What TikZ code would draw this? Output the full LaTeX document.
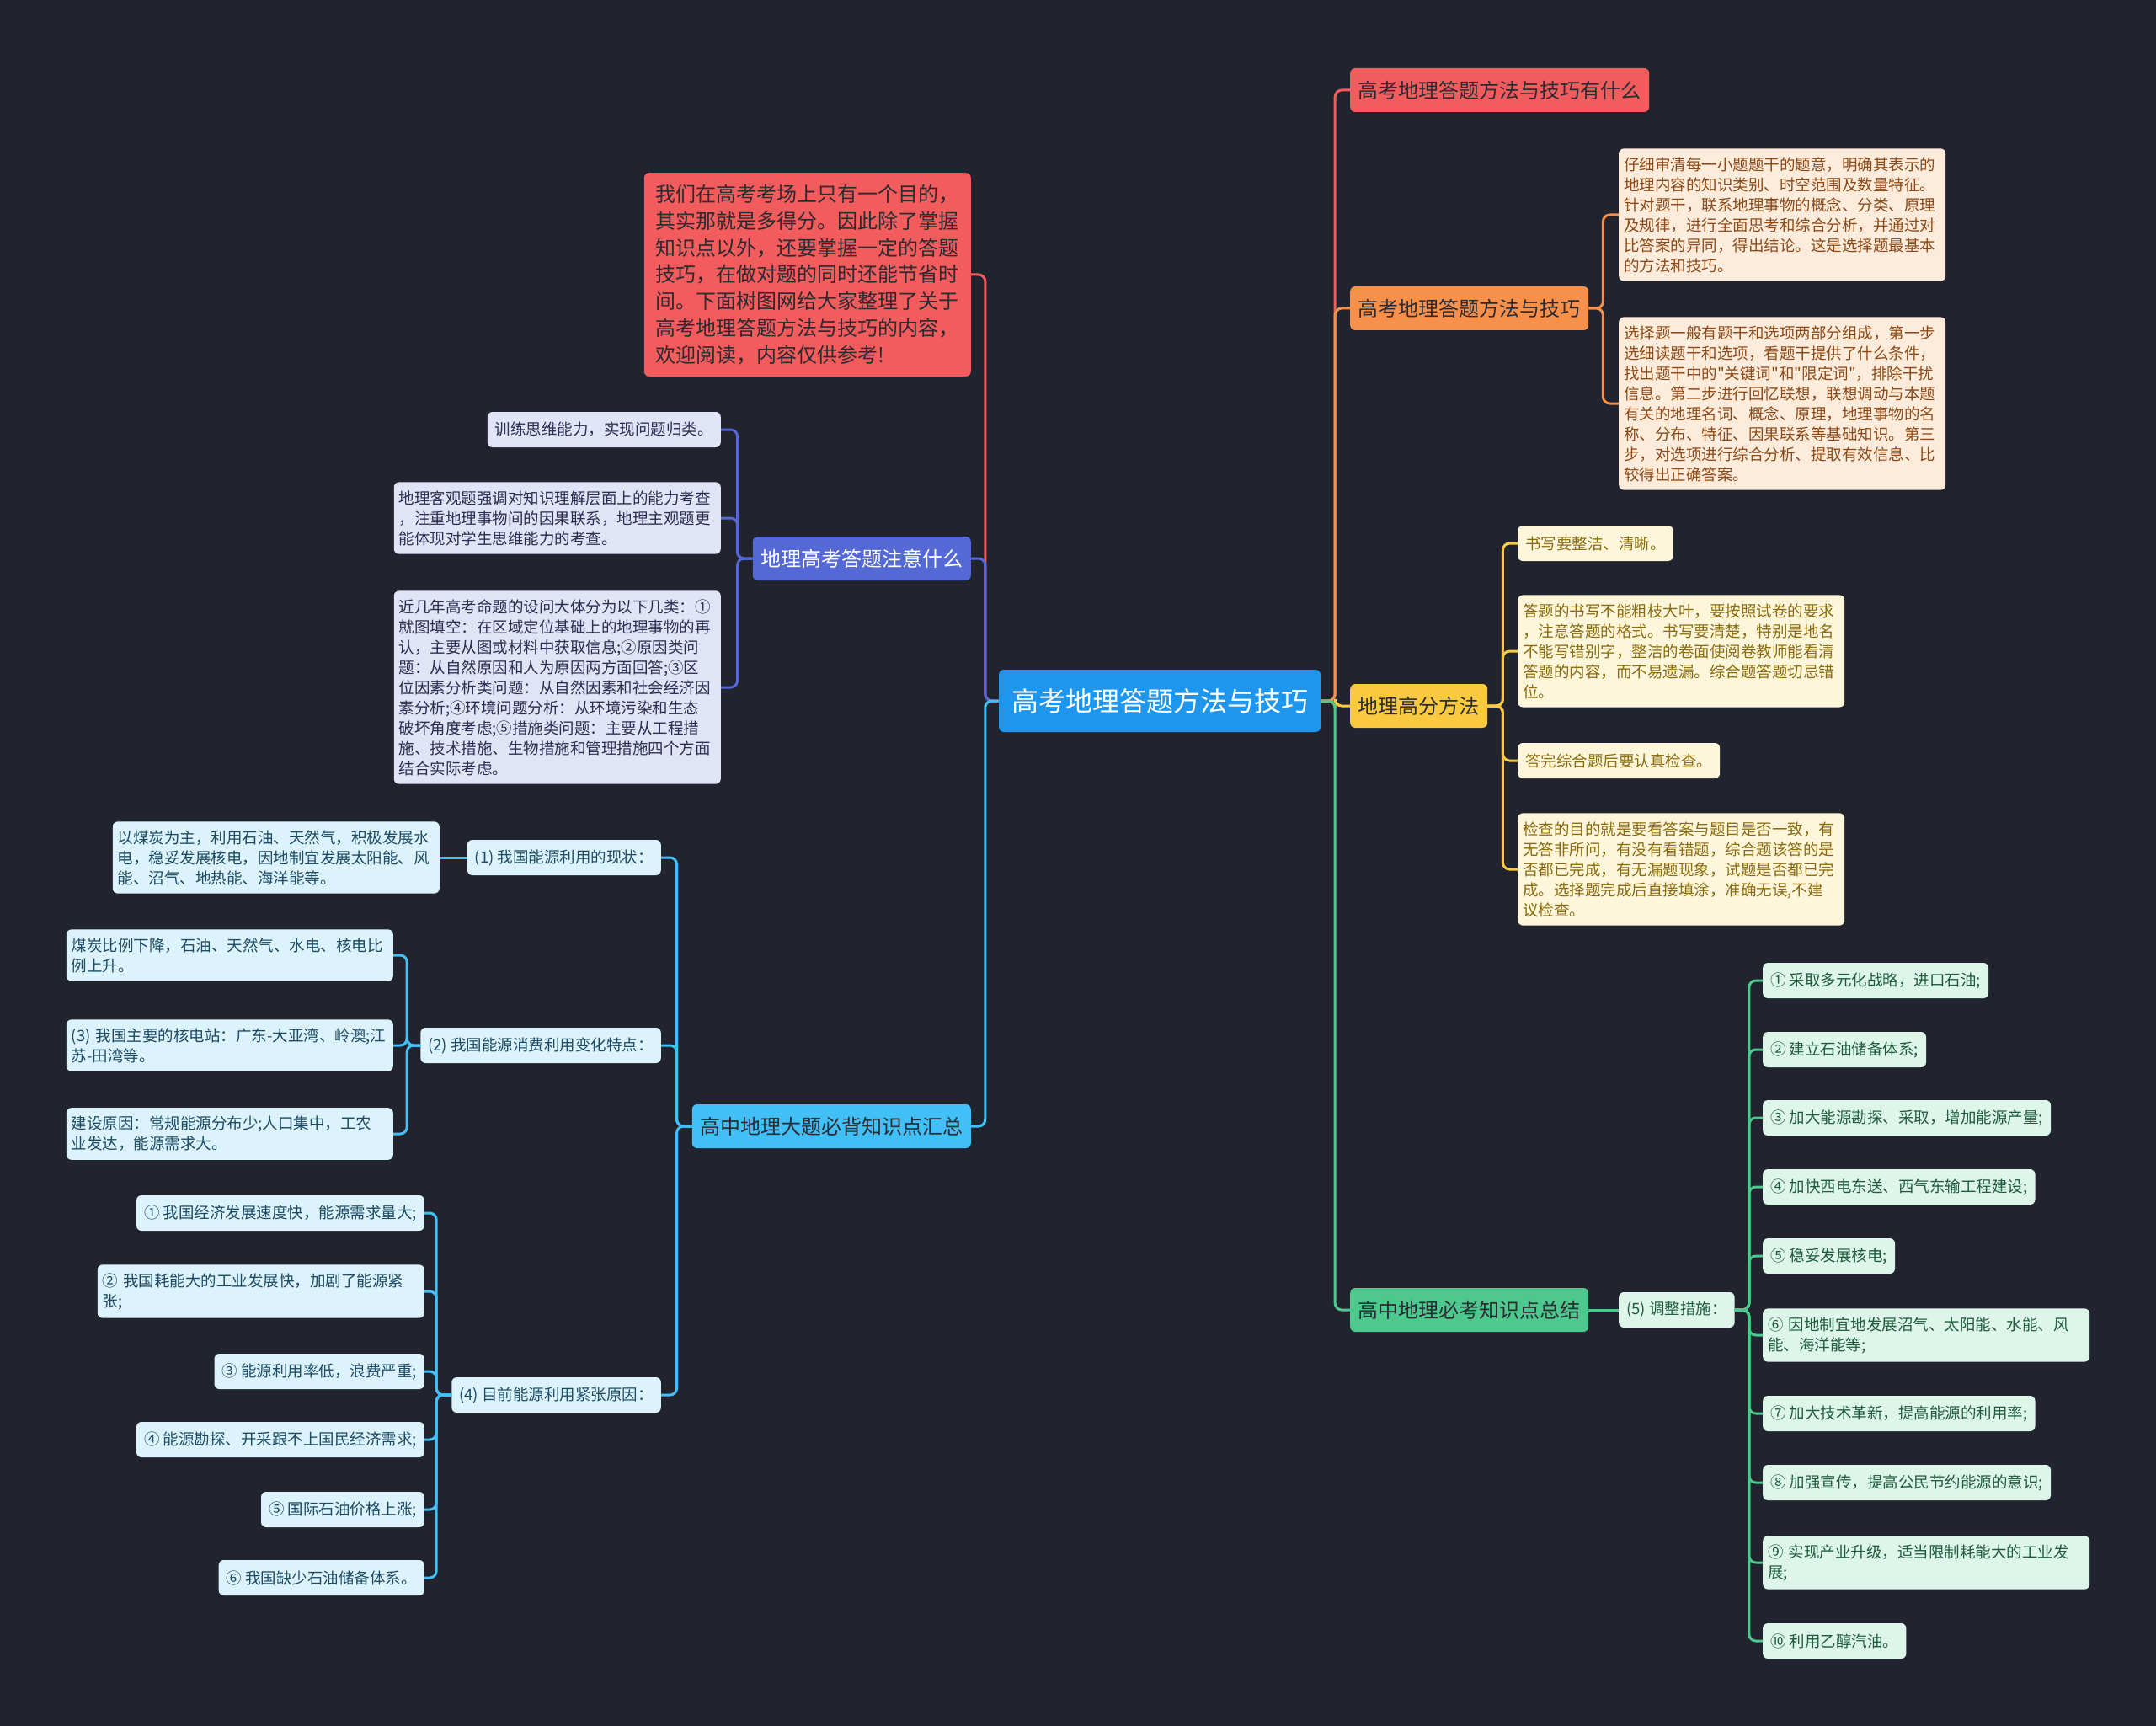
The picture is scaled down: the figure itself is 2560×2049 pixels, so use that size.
\documentclass[tikz,border=0pt]{standalone}
\usepackage{fontspec}
\setmainfont{Noto Sans CJK SC}[Ligatures=TeXOff]
\definecolor{bg}{HTML}{21242F}
\definecolor{rootblue}{HTML}{1E96EE}
\definecolor{cred}{HTML}{F25C5C}
\definecolor{corange}{HTML}{F7904A}
\definecolor{cyellow}{HTML}{F9CA3F}
\definecolor{cgreen}{HTML}{4DC98E}
\definecolor{cpurple}{HTML}{5468D6}
\definecolor{csky}{HTML}{40C0F6}
\definecolor{tdark}{HTML}{2B2B33}
\definecolor{fpeach}{HTML}{FDEBDC}
\definecolor{tpeach}{HTML}{8C4A16}
\definecolor{fcream}{HTML}{FDF6DB}
\definecolor{tcream}{HTML}{8A6B0E}
\definecolor{fmint}{HTML}{DEF5EA}
\definecolor{tmint}{HTML}{1F5C3F}
\definecolor{flav}{HTML}{E1E4F6}
\definecolor{tlav}{HTML}{2A2E50}
\definecolor{fice}{HTML}{DCF2FC}
\definecolor{tice}{HTML}{1D4C62}

\begin{document}
\begin{tikzpicture}[
x=1pt, y=-1pt,
topic/.style={rounded corners=6pt, inner xsep=9.5pt, inner ysep=10pt, minimum height=52pt, text=tdark, font=\fontsize{24}{30}\selectfont},
leaf/.style={rounded corners=6pt, inner xsep=9pt, inner ysep=10pt, minimum height=42pt, font=\fontsize{18.5}{24}\selectfont},
wide/.style={leaf, inner xsep=6pt, text width=376pt, align=left},
link/.style={line width=3pt, rounded corners=8pt}
]
\fill[bg] (0,0) rectangle (2560,2049);

\node[topic, fill=rootblue, text=white, font=\fontsize{32}{38}\selectfont, minimum height=74pt, inner xsep=15pt] (root) at (1377,832) {高考地理答题方法与技巧};

\node[topic, fill=cred, anchor=west] (what) at (1603,107) {高考地理答题方法与技巧有什么};
\node[topic, fill=corange, anchor=west] (skill) at (1603,366) {高考地理答题方法与技巧};
\node[wide, fill=fpeach, text=tpeach, anchor=west] (skill1) at (1922,255) {仔细审清每一小题题干的题意，明确其表示的\\地理内容的知识类别、时空范围及数量特征。\\针对题干，联系地理事物的概念、分类、原理\\及规律，进行全面思考和综合分析，并通过对\\比答案的异同，得出结论。这是选择题最基本\\的方法和技巧。};
\node[wide, fill=fpeach, text=tpeach, anchor=west] (skill2) at (1922,479) {选择题一般有题干和选项两部分组成，第一步\\选细读题干和选项，看题干提供了什么条件，\\找出题干中的"关键词"和"限定词"，排除干扰\\信息。第二步进行回忆联想，联想调动与本题\\有关的地理名词、概念、原理，地理事物的名\\称、分布、特征、因果联系等基础知识。第三\\步，对选项进行综合分析、提取有效信息、比\\较得出正确答案。};

\node[topic, fill=cyellow, anchor=west] (high) at (1603,838) {地理高分方法};
\node[leaf, fill=fcream, text=tcream, anchor=west] (high1) at (1802,645) {书写要整洁、清晰。};
\node[wide, fill=fcream, text=tcream, anchor=west] (high2) at (1802,773) {答题的书写不能粗枝大叶，要按照试卷的要求\\，注意答题的格式。书写要清楚，特别是地名\\不能写错别字，整洁的卷面使阅卷教师能看清\\答题的内容，而不易遗漏。综合题答题切忌错\\位。};
\node[leaf, fill=fcream, text=tcream, anchor=west] (high3) at (1802,903) {答完综合题后要认真检查。};
\node[wide, fill=fcream, text=tcream, anchor=west] (high4) at (1802,1032) {检查的目的就是要看答案与题目是否一致，有\\无答非所问，有没有看错题，综合题该答的是\\否都已完成，有无漏题现象，试题是否都已完\\成。选择题完成后直接填涂，准确无误,不建\\议检查。};

\node[topic, fill=cgreen, anchor=west] (must) at (1603,1555) {高中地理必考知识点总结};
\node[leaf, fill=fmint, text=tmint, anchor=west] (adjust) at (1922,1555) {(5) 调整措施：};
\node[leaf, fill=fmint, text=tmint, anchor=west] (adj1) at (2093,1164) {① 采取多元化战略，进口石油;};
\node[leaf, fill=fmint, text=tmint, anchor=west] (adj2) at (2093,1246) {② 建立石油储备体系;};
\node[leaf, fill=fmint, text=tmint, anchor=west] (adj3) at (2093,1327) {③ 加大能源勘探、采取，增加能源产量;};
\node[leaf, fill=fmint, text=tmint, anchor=west] (adj4) at (2093,1409) {④ 加快西电东送、西气东输工程建设;};
\node[leaf, fill=fmint, text=tmint, anchor=west] (adj5) at (2093,1491) {⑤ 稳妥发展核电;};
\node[wide, fill=fmint, text=tmint, anchor=west] (adj6) at (2093,1585) {⑥ 因地制宜地发展沼气、太阳能、水能、风\\能、海洋能等;};
\node[leaf, fill=fmint, text=tmint, anchor=west] (adj7) at (2093,1678) {⑦ 加大技术革新，提高能源的利用率;};
\node[leaf, fill=fmint, text=tmint, anchor=west] (adj8) at (2093,1760) {⑧ 加强宣传，提高公民节约能源的意识;};
\node[wide, fill=fmint, text=tmint, anchor=west] (adj9) at (2093,1855) {⑨ 实现产业升级，适当限制耗能大的工业发\\展;};
\node[leaf, fill=fmint, text=tmint, anchor=west] (adj10) at (2093,1948) {⑩ 利用乙醇汽油。};

\node[topic, fill=cred, anchor=east, align=left, inner xsep=14pt, inner ysep=14pt, font=\fontsize{24}{31.8}\selectfont] (intro) at (1153,326) {我们在高考考场上只有一个目的，\\其实那就是多得分。因此除了掌握\\知识点以外，还要掌握一定的答题\\技巧，在做对题的同时还能节省时\\间。下面树图网给大家整理了关于\\高考地理答题方法与技巧的内容，\\欢迎阅读，内容仅供参考!};

\node[topic, fill=cpurple, text=white, anchor=east] (note) at (1153,663) {地理高考答题注意什么};
\node[leaf, fill=flav, text=tlav, anchor=east] (note1) at (856,510) {训练思维能力，实现问题归类。};
\node[wide, fill=flav, text=tlav, anchor=east] (note2) at (856,615) {地理客观题强调对知识理解层面上的能力考查\\，注重地理事物间的因果联系，地理主观题更\\能体现对学生思维能力的考查。};
\node[wide, fill=flav, text=tlav, anchor=east] (note3) at (856,816) {近几年高考命题的设问大体分为以下几类：①\\就图填空：在区域定位基础上的地理事物的再\\认，主要从图或材料中获取信息;②原因类问\\题：从自然原因和人为原因两方面回答;③区\\位因素分析类问题：从自然因素和社会经济因\\素分析;④环境问题分析：从环境污染和生态\\破坏角度考虑;⑤措施类问题：主要从工程措\\施、技术措施、生物措施和管理措施四个方面\\结合实际考虑。};

\node[topic, fill=csky, anchor=east] (sum) at (1153,1337) {高中地理大题必背知识点汇总};
\node[leaf, fill=fice, text=tice, anchor=east] (now) at (785,1018) {(1) 我国能源利用的现状：};
\node[wide, fill=fice, text=tice, anchor=east] (now1) at (522,1018) {以煤炭为主，利用石油、天然气，积极发展水\\电，稳妥发展核电，因地制宜发展太阳能、风\\能、沼气、地热能、海洋能等。};
\node[leaf, fill=fice, text=tice, anchor=east] (trend) at (785,1241) {(2) 我国能源消费利用变化特点：};
\node[wide, fill=fice, text=tice, anchor=east] (trend1) at (467,1134) {煤炭比例下降，石油、天然气、水电、核电比\\例上升。};
\node[wide, fill=fice, text=tice, anchor=east] (trend2) at (467,1241) {(3)~我国主要的核电站：\mbox{广东-大亚湾}、岭澳;江\\\mbox{苏-田湾}等。};
\node[wide, fill=fice, text=tice, anchor=east] (trend3) at (467,1346) {建设原因：常规能源分布少;人口集中，工农\\业发达，能源需求大。};
\node[leaf, fill=fice, text=tice, anchor=east] (cause) at (785,1656) {(4) 目前能源利用紧张原因：};
\node[leaf, fill=fice, text=tice, anchor=east] (cause1) at (504,1440) {① 我国经济发展速度快，能源需求量大;};
\node[wide, fill=fice, text=tice, anchor=east] (cause2) at (504,1533) {② 我国耗能大的工业发展快，加剧了能源紧\\张;};
\node[leaf, fill=fice, text=tice, anchor=east] (cause3) at (504,1628) {③ 能源利用率低，浪费严重;};
\node[leaf, fill=fice, text=tice, anchor=east] (cause4) at (504,1709) {④ 能源勘探、开采跟不上国民经济需求;};
\node[leaf, fill=fice, text=tice, anchor=east] (cause5) at (504,1792) {⑤ 国际石油价格上涨;};
\node[leaf, fill=fice, text=tice, anchor=east] (cause6) at (504,1873) {⑥ 我国缺少石油储备体系。};

\draw[link, cred] (root.east) -- ++(17,0) |- (what.west);
\draw[link, corange] (root.east) -- ++(17,0) |- (skill.west);
\draw[link, cyellow] (root.east) -- ++(17,0) |- (high.west);
\draw[link, cgreen] (root.east) -- ++(17,0) |- (must.west);
\draw[link, corange] (skill.east) -- ++(17,0) |- (skill1.west);
\draw[link, corange] (skill.east) -- ++(17,0) |- (skill2.west);
\draw[link, cyellow] (high.east) -- ++(18,0) |- (high1.west);
\draw[link, cyellow] (high.east) -- ++(18,0) |- (high2.west);
\draw[link, cyellow] (high.east) -- ++(18,0) |- (high3.west);
\draw[link, cyellow] (high.east) -- ++(18,0) |- (high4.west);
\draw[link, cgreen] (must.east) -- (adjust.west);
\draw[link, cgreen] (adjust.east) -- ++(17,0) |- (adj1.west);
\draw[link, cgreen] (adjust.east) -- ++(17,0) |- (adj2.west);
\draw[link, cgreen] (adjust.east) -- ++(17,0) |- (adj3.west);
\draw[link, cgreen] (adjust.east) -- ++(17,0) |- (adj4.west);
\draw[link, cgreen] (adjust.east) -- ++(17,0) |- (adj5.west);
\draw[link, cgreen] (adjust.east) -- ++(17,0) |- (adj6.west);
\draw[link, cgreen] (adjust.east) -- ++(17,0) |- (adj7.west);
\draw[link, cgreen] (adjust.east) -- ++(17,0) |- (adj8.west);
\draw[link, cgreen] (adjust.east) -- ++(17,0) |- (adj9.west);
\draw[link, cgreen] (adjust.east) -- ++(17,0) |- (adj10.west);

\draw[link, cred] (root.west) -- ++(-16,0) |- (intro.east);
\draw[link, cpurple] (root.west) -- ++(-16,0) |- (note.east);
\draw[link, csky] (root.west) -- ++(-16,0) |- (sum.east);
\draw[link, cpurple] (note.west) -- ++(-18,0) |- (note1.east);
\draw[link, cpurple] (note.west) -- ++(-18,0) |- (note2.east);
\draw[link, cpurple] (note.west) -- ++(-18,0) |- (note3.east);
\draw[link, csky] (sum.west) -- ++(-18,0) |- (now.east);
\draw[link, csky] (sum.west) -- ++(-18,0) |- (trend.east);
\draw[link, csky] (sum.west) -- ++(-18,0) |- (cause.east);
\draw[link, csky] (now.west) -- (now1.east);
\draw[link, csky] (trend.west) -- ++(-16,0) |- (trend1.east);
\draw[link, csky] (trend.west) -- ++(-16,0) |- (trend2.east);
\draw[link, csky] (trend.west) -- ++(-16,0) |- (trend3.east);
\draw[link, csky] (cause.west) -- ++(-18,0) |- (cause1.east);
\draw[link, csky] (cause.west) -- ++(-18,0) |- (cause2.east);
\draw[link, csky] (cause.west) -- ++(-18,0) |- (cause3.east);
\draw[link, csky] (cause.west) -- ++(-18,0) |- (cause4.east);
\draw[link, csky] (cause.west) -- ++(-18,0) |- (cause5.east);
\draw[link, csky] (cause.west) -- ++(-18,0) |- (cause6.east);
\end{tikzpicture}
\end{document}
